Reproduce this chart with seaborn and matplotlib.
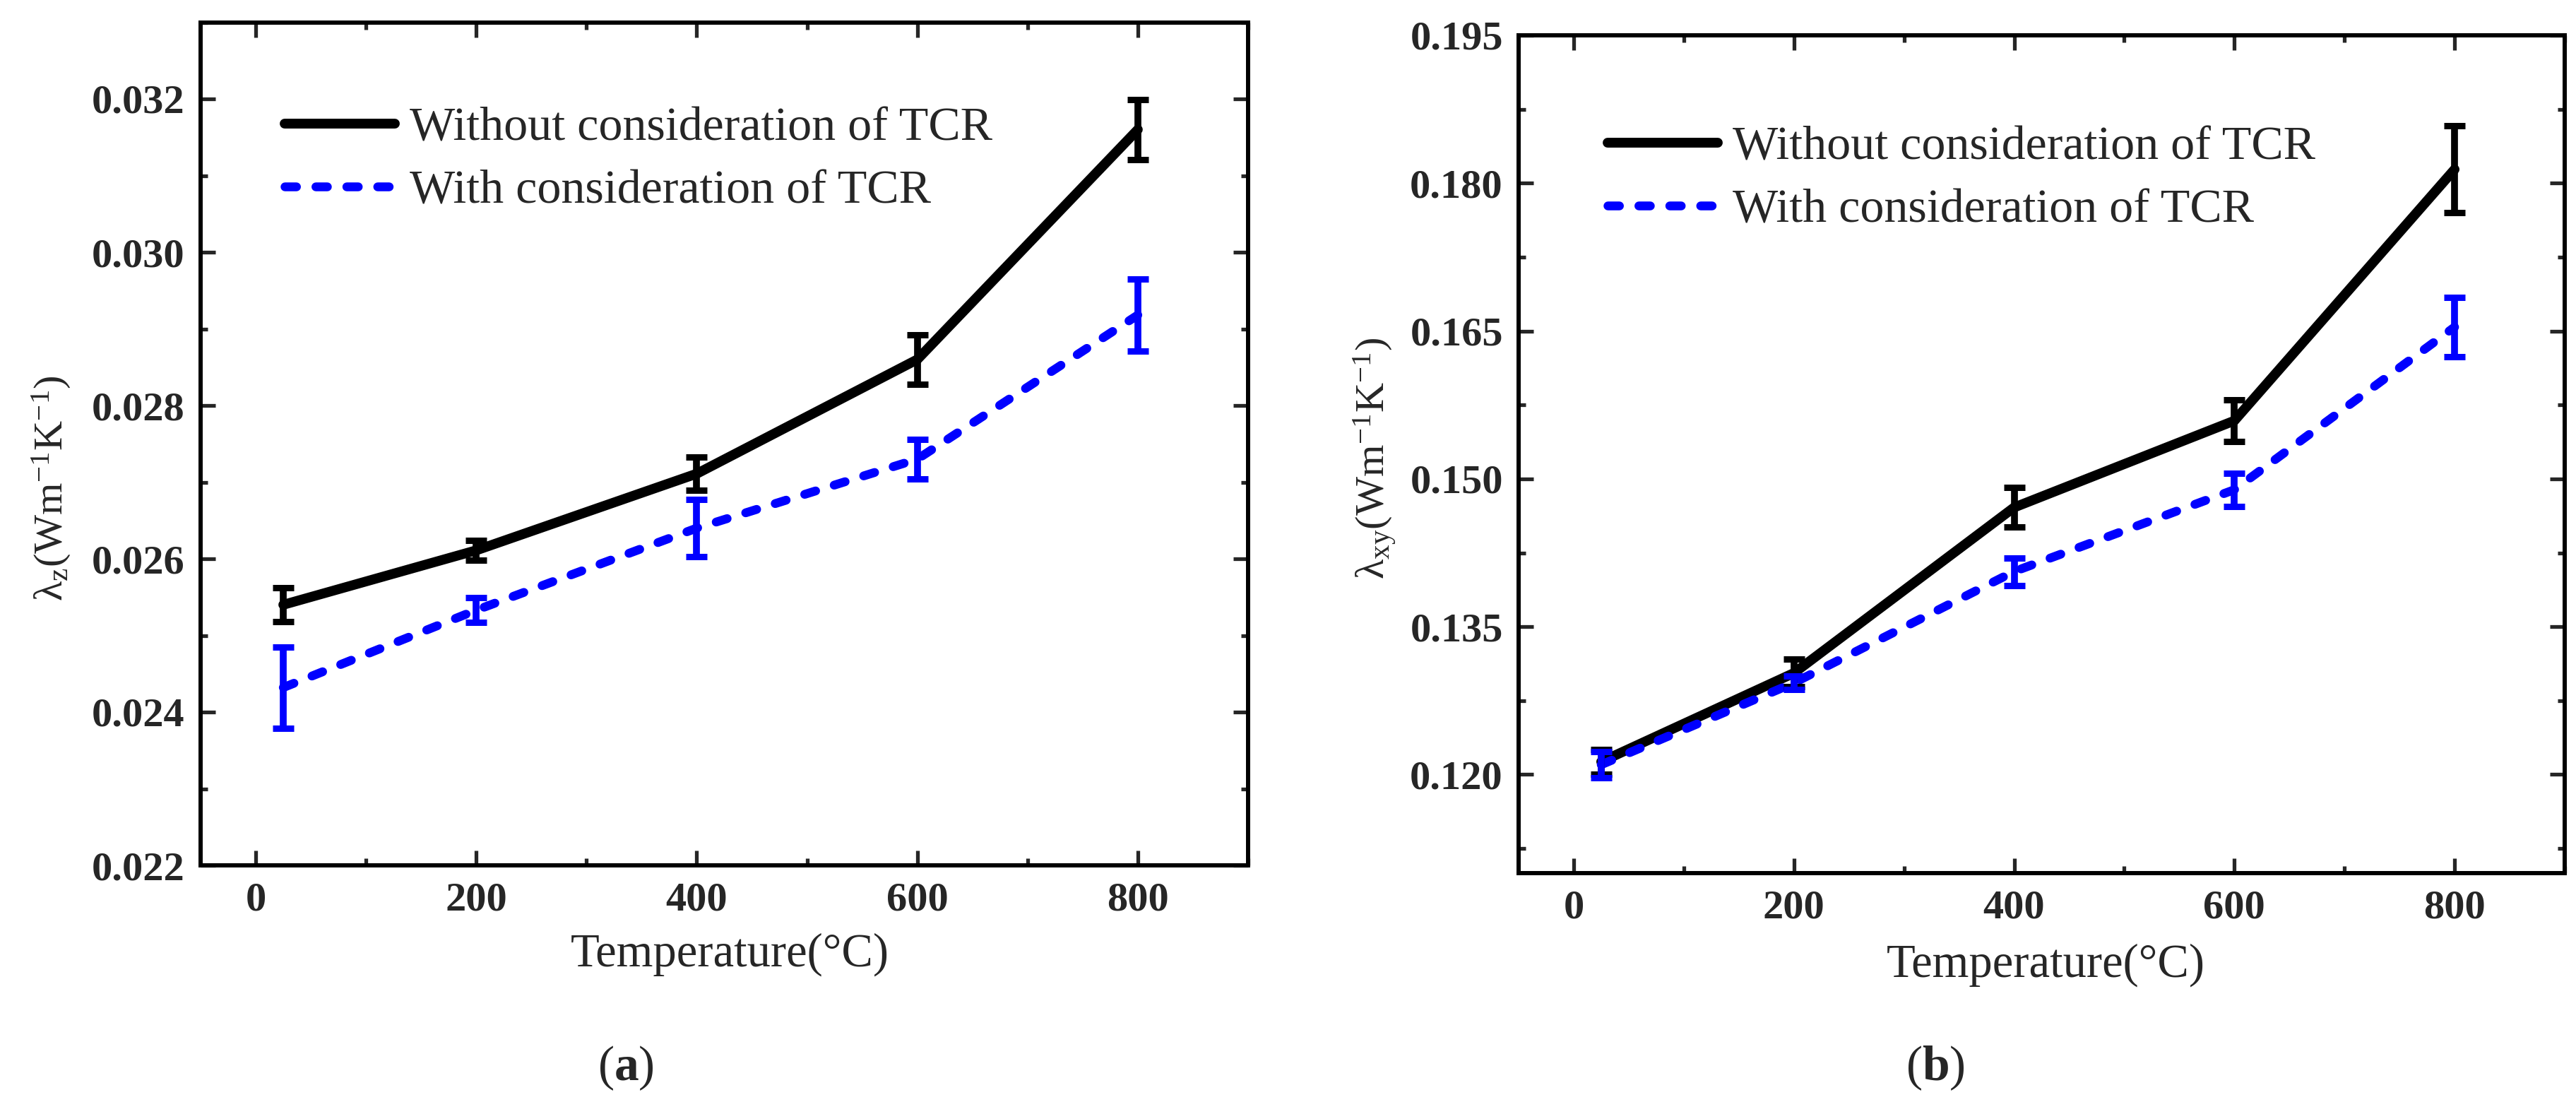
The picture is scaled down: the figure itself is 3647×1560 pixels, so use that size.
import numpy as np
import pandas as pd
import matplotlib
matplotlib.use("Agg")
import matplotlib.pyplot as plt
import seaborn as sns
from matplotlib.ticker import MultipleLocator, FormatStrFormatter

# ---------------- data ----------------
temperature = [25, 200, 400, 600, 800]

# (a) lambda_z
lz_without = [0.02540, 0.02611, 0.02711, 0.02860, 0.03160]
lz_without_err = [0.00022, 0.00013, 0.00022, 0.00032, 0.00039]
lz_with = [0.02432, 0.02533, 0.02640, 0.02730, 0.02918]
lz_with_err = [0.00053, 0.00016, 0.00037, 0.00026, 0.00047]

# (b) lambda_xy
lxy_without = [0.1213, 0.1303, 0.1471, 0.1559, 0.1814]
lxy_without_err = [0.00125, 0.0014, 0.0020, 0.0021, 0.0044]
lxy_with = [0.1210, 0.1293, 0.1406, 0.1489, 0.1654]
lxy_with_err = [0.0013, 0.0007, 0.0014, 0.0017, 0.0030]

series_labels = ["Without consideration of TCR", "With consideration of TCR"]
xlabel = "Temperature(\u00b0C)"
ylabel_a = "\u03bb$_{z}$(Wm$^{-1}$K$^{-1}$)"
ylabel_b = "\u03bb$_{xy}$(Wm$^{-1}$K$^{-1}$)"
panel_labels = ["(\\mathbf{a})", "(\\mathbf{b})"]

# ---------------- style ----------------
sns.set_theme(style="ticks")
plt.rcParams["font.family"] = ["Liberation Serif", "DejaVu Serif"]
plt.rcParams["mathtext.fontset"] = "custom"
plt.rcParams["mathtext.rm"] = "Liberation Serif"
plt.rcParams["mathtext.it"] = "Liberation Serif"
plt.rcParams["mathtext.bf"] = "Liberation Serif:bold"

W, H = 3648, 1560
fig = plt.figure(figsize=(W / 100, H / 100), dpi=100)

ax_a = fig.add_axes([284 / W, 1 - 1225 / H, (1767 - 284) / W, (1225 - 31.5) / H])
ax_b = fig.add_axes([2150 / W, 1 - 1236 / H, (3631 - 2150) / W, (1236 - 50) / H])

dash_style = (0, (1.3, 2.2))
TICK_FS = 42
LEG_FS = 49


def draw(ax, y1, e1, y2, e2):
    df = pd.DataFrame({"T": temperature, "v1": y1, "v2": y2})
    sns.lineplot(data=df, x="T", y="v1", ax=ax, color="black", linewidth=10,
                 label=series_labels[0], solid_capstyle="round", zorder=3)
    sns.lineplot(data=df, x="T", y="v2", ax=ax, color="#0000ff", linewidth=9,
                 linestyle=dash_style, dash_capstyle="round",
                 label=series_labels[1], zorder=3)
    for yy, ee, cc in [(y1, e1, "black"), (y2, e2, "#0000ff")]:
        ax.errorbar(temperature, yy, yerr=ee, fmt="none", ecolor=cc,
                    elinewidth=7, capsize=11, capthick=6.5, zorder=4)
    ax.set_xlim(-50, 900)
    ax.xaxis.set_major_locator(MultipleLocator(200))
    ax.xaxis.set_minor_locator(MultipleLocator(100))
    ax.tick_params(which="both", direction="in", top=True, right=True,
                   width=3.8, labelsize=TICK_FS)
    ax.tick_params(axis="x", which="both", pad=17)
    ax.tick_params(axis="y", which="both", pad=16)
    ax.tick_params(which="major", length=15)
    ax.tick_params(which="minor", length=7)
    for s in ax.spines.values():
        s.set_linewidth(4.3)
        s.set_color("black")
    ax.set_xlabel(xlabel, fontsize=48)


draw(ax_a, lz_without, lz_without_err, lz_with, lz_with_err)
ax_a.set_ylim(0.022, 0.033)
ax_a.yaxis.set_major_locator(MultipleLocator(0.002))
ax_a.yaxis.set_minor_locator(MultipleLocator(0.001))
ax_a.yaxis.set_major_formatter(FormatStrFormatter("%.3f"))
ax_a.set_ylabel(ylabel_a, fontsize=42)
ax_a.yaxis.set_label_coords(-0.122, 0.447)
ax_a.xaxis.set_label_coords(0.505, -0.080)

draw(ax_b, lxy_without, lxy_without_err, lxy_with, lxy_with_err)
ax_b.set_ylim(0.110, 0.195)
ax_b.yaxis.set_major_locator(MultipleLocator(0.015))
ax_b.yaxis.set_minor_locator(MultipleLocator(0.0075))
ax_b.yaxis.set_major_formatter(FormatStrFormatter("%.3f"))
ax_b.set_ylabel(ylabel_b, fontsize=42)
ax_b.yaxis.set_label_coords(-0.115, 0.495)
ax_b.xaxis.set_label_coords(0.504, -0.084)

for ax in (ax_a, ax_b):
    for lab in ax.get_xticklabels() + ax.get_yticklabels():
        lab.set_fontweight("bold")
        lab.set_fontsize(TICK_FS)

# legend placement: target centres of the two rows (pixels from top)
leg_targets = {ax_a: (0.080, 175, 264), ax_b: (0.085, 202, 291)}
fs_px = LEG_FS * 100 / 72
for ax, (x0, r1, r2) in leg_targets.items():
    spacing = 0.3
    y_anchor = 0.95
    for _ in range(4):
        leg = ax.legend(loc="upper left", bbox_to_anchor=(x0, y_anchor), frameon=False,
                        fontsize=LEG_FS, handlelength=2.3, handletextpad=0.3,
                        labelspacing=spacing, borderpad=0, borderaxespad=0)
        fig.canvas.draw()
        rend = fig.canvas.get_renderer()
        ys = []
        for ln in leg.get_lines():
            bb = ln.get_window_extent(rend)
            ys.append(0.5 * (bb.y0 + bb.y1))
        cur_gap = ys[0] - ys[1]
        spacing += ((r2 - r1) - cur_gap) / fs_px
        ax_h = ax.get_window_extent(rend).height
        y_anchor += ((H - r1) - ys[0]) / ax_h

fig.text(886 / W, 1 - 1512 / H, "$" + panel_labels[0] + "$", fontsize=50,
         ha="center", va="center")
fig.text(2740 / W, 1 - 1512 / H, "$" + panel_labels[1] + "$", fontsize=50,
         ha="center", va="center")

fig.savefig("out.png", dpi=100, facecolor="white")
